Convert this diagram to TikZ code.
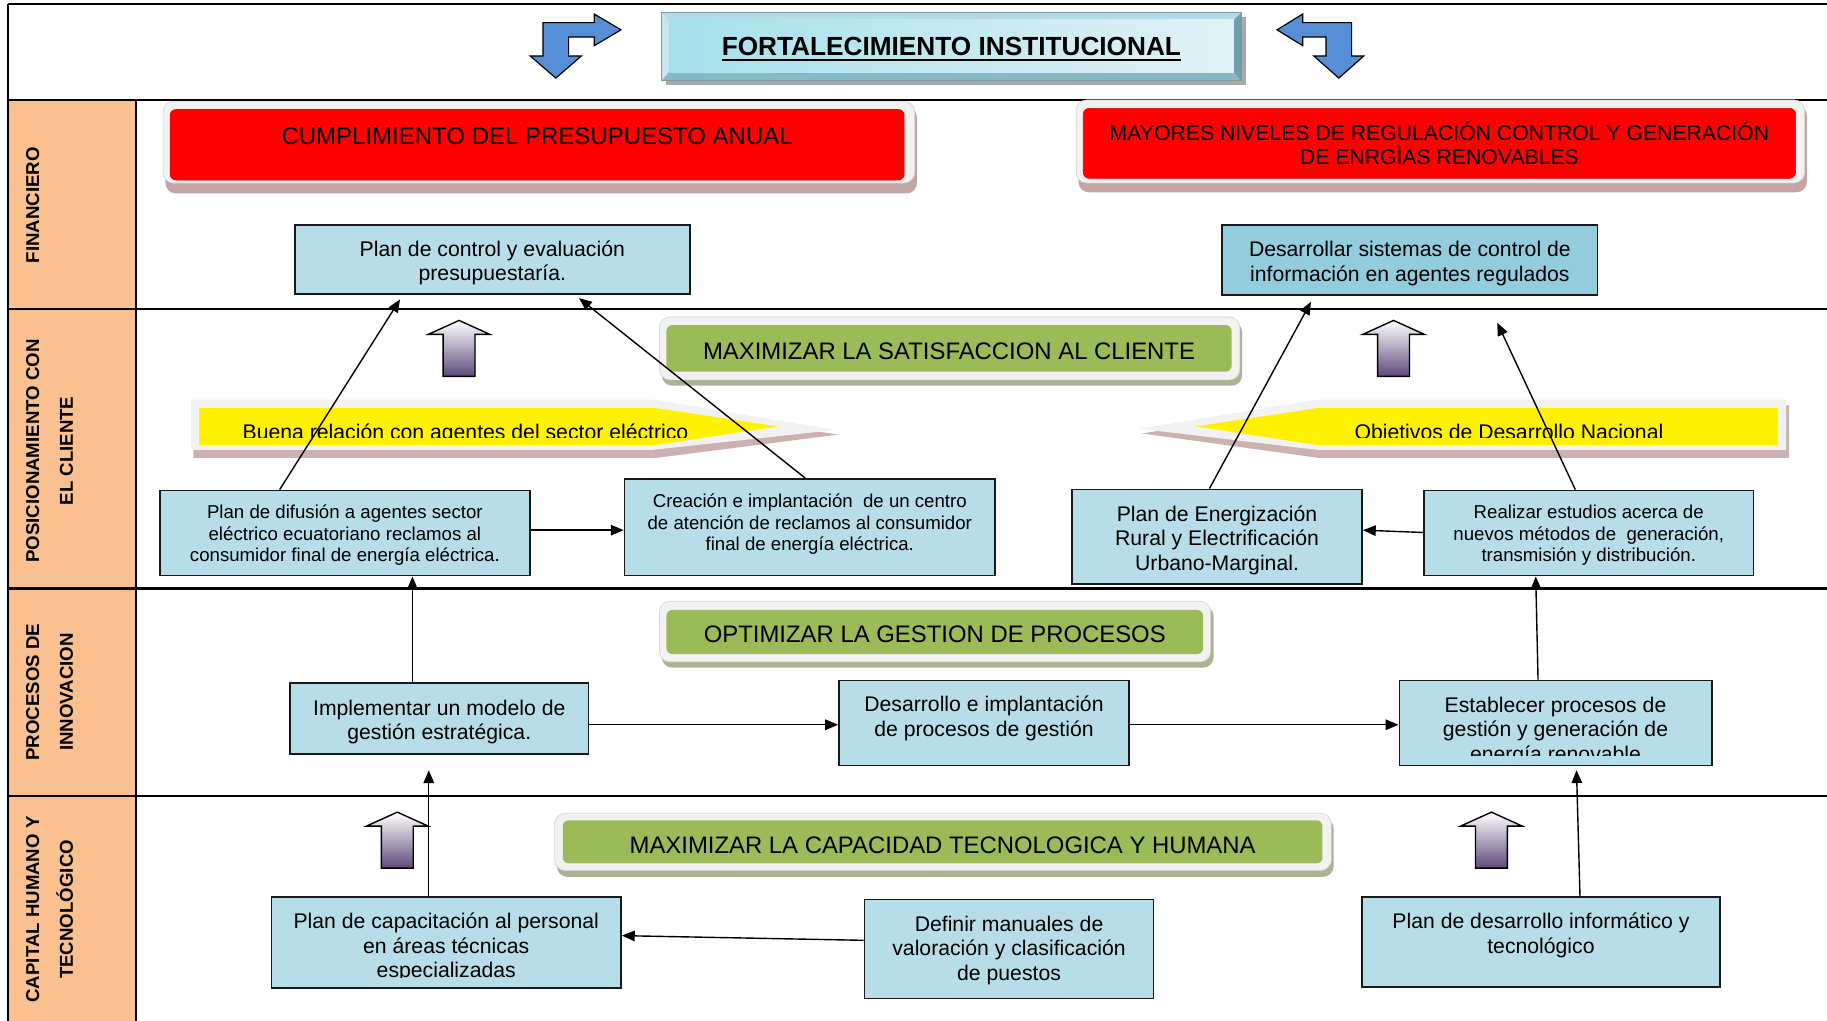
\documentclass[tikz,border=0pt]{standalone}
\usepackage{fontspec}
\setmainfont{Liberation Sans}
\usetikzlibrary{arrows.meta}

\definecolor{peach}{HTML}{FAC090}
\definecolor{boxblue}{HTML}{B7DDE8}
\definecolor{boxbluedark}{HTML}{93CDDD}
\definecolor{goalred}{HTML}{FF0000}
\definecolor{goalgreen}{HTML}{9BBB59}
\definecolor{framegray}{HTML}{F2F2F2}
\definecolor{frameedge}{HTML}{D6D6D6}
\definecolor{redshadow}{HTML}{C4A5A5}
\definecolor{greenshadow}{HTML}{ABB395}
\definecolor{yellowshadow}{HTML}{CDB0B0}
\definecolor{bentblue}{HTML}{558ED5}
\definecolor{uppurple}{HTML}{5F497A}
\definecolor{bevtop}{HTML}{B4DCE7}
\definecolor{bevleft}{HTML}{C6E5EE}
\definecolor{bevright}{HTML}{6E9FAD}
\definecolor{bevbot}{HTML}{86B9C6}
\definecolor{titleshadow}{HTML}{A9A9A9}

\newcommand{\setfs}[2]{\fontsize{#1}{#2}\selectfont}
% invisible strut that sets the height of a first line
\newcommand{\drop}[1]{\rule{0pt}{#1pt}}
\newsavebox{\ulsave}
\newcommand{\thickul}[1]{\sbox{\ulsave}{#1}\rlap{\rule[-4.5pt]{\wd\ulsave}{1.8pt}}\usebox{\ulsave}}
% hollow up arrow: centre x, tip y, bottom y
\newcommand{\hollowup}[3]{%
  \shadedraw[uparrow] (#1,#2) -- ++(26.5,12) -- ++(-12.8,0) -- (#1+13.7,#3)
    -- (#1-13.7,#3) -- (#1-13.7,#2+12) -- ++(-12.8,0) -- cycle;}

\tikzset{
  lane/.style={line width=2pt, draw=black},
  box/.style={draw=black!90, line width=1.5pt, fill=boxblue, align=center,
    inner sep=0pt, font=\setfs{18.2}{21}},
  smallbox/.style={box, font=\setfs{16}{18.5}},
  conn/.style={draw=black, line width=1.2pt, -{Triangle[length=11pt,width=9pt]}},
  goalframe/.style={fill=framegray, draw=frameedge, line width=0.6pt, rounded corners=9pt},
  redgoal/.style={fill=goalred, draw=red!85!black, line width=0.5pt, rounded corners=5pt,
    align=center, inner sep=0pt},
  greengoal/.style={fill=goalgreen, rounded corners=5pt, align=center, inner sep=0pt,
    font=\setfs{20.5}{24}},
  lanelabel/.style={rotate=90, align=center, font=\bfseries\setfs{16}{29}},
  bentarrow/.style={fill=bentblue, draw=black, line width=1pt, line join=miter},
  uparrow/.style={top color=white, bottom color=uppurple, draw=black, line width=1.2pt},
}

\begin{document}
\begin{tikzpicture}[x=1pt, y=-1pt]
\useasboundingbox (0,0) rectangle (1568,876);
\fill[white] (0,0) rectangle (1568,876);

% ---------- lanes ----------
\fill[peach] (7,86) rectangle (117,876);
\draw[lane] (7,3.5) -- (1568,3.5);
\draw[lane] (7,3.5) -- (7,876);
\draw[lane] (7,86) -- (1568,86);
\draw[lane] (7,265) -- (1568,265);
\draw[lane] (7,505) -- (1568,505);
\draw[lane] (7,683) -- (1568,683);
\draw[lane] (117,86) -- (117,876);

\node[lanelabel] (lfin) at (28,176) {FINANCIERO};
\node[lanelabel] (lcli) at (42.5,387) {POSICIONAMIENTO CON\\EL CLIENTE};
\node[lanelabel] (lpro) at (42.5,594) {PROCESOS DE\\INNOVACION};
\node[lanelabel] (lcap) at (42.5,780.5) {CAPITAL HUMANO Y\\TECNOLÓGICO};

% ---------- header ----------
\fill[titleshadow] (572,15) rectangle (1069,73);
\fill[bevtop] (568,11) -- (1065,11) -- (1059,17) -- (574,17) -- cycle;
\fill[bevleft] (568,11) -- (574,17) -- (574,62) -- (568,69) -- cycle;
\fill[bevright] (1065,11) -- (1065,69) -- (1059,62) -- (1059,17) -- cycle;
\fill[bevbot] (568,69) -- (574,62) -- (1059,62) -- (1065,69) -- cycle;
\shade[left color=boxblue!90!cyan, right color=boxblue!40!white] (574,17) rectangle (1059,62);
\draw[boxblue!70!black, line width=0.6pt] (568,11) rectangle (1065,69);
\node[font=\bfseries\setfs{22.5}{26}, inner sep=0pt] (title) at (816.5,42.2)
  {\thickul{FORTALECIMIENTO INSTITUCIONAL}};

\draw[bentarrow] (466,19.4) -- (510,19.4) -- (510,12) -- (533,25.6) -- (510,39.2)
  -- (510,31.8) -- (488,31.8) -- (488,48) -- (499,48) -- (477,67) -- (455,48)
  -- (466,48) -- cycle;
\draw[bentarrow] (1160,19.4) -- (1118,19.4) -- (1118,12) -- (1096,25.6) -- (1118,39.2)
  -- (1118,31.8) -- (1138,31.8) -- (1138,48) -- (1127.5,48) -- (1149,67) -- (1170.5,48)
  -- (1160,48) -- cycle;

% ---------- red goals ----------
\fill[redshadow, rounded corners=9pt] (142,92) rectangle (787,166);
\draw[goalframe] (140,87) rectangle (785,157);
\node[redgoal, minimum width=630pt, minimum height=60.5pt, font=\setfs{20.6}{24}]
  (cumpl) at (461,124.25) {CUMPLIMIENTO DEL PRESUPUESTO ANUAL\\[-9.5pt]\mbox{}};

\fill[redshadow, rounded corners=9pt] (925.6,90) rectangle (1550.7,165);
\draw[goalframe] (923.6,85.8) rectangle (1548.7,157);
\node[redgoal, minimum width=611.3pt, minimum height=60pt, font=\setfs{18.2}{21}]
  (mayores) at (1235.35,123)
  {MAYORES NIVELES DE REGULACIÓN CONTROL Y GENERACIÓN\\DE ENRGÌAS RENOVABLES};

% ---------- green goals ----------
\fill[greenshadow, rounded corners=9pt] (568,276) rectangle (1066,331);
\draw[goalframe] (566,272) rectangle (1064,326);
\node[greengoal, minimum width=485pt, minimum height=40pt] (satisf) at (814.5,299)
  {\drop{19}MAXIMIZAR LA SATISFACCION AL CLIENTE};

\fill[greenshadow, rounded corners=9pt] (568,520) rectangle (1041.5,573);
\draw[goalframe] (566,516) rectangle (1039,568);
\node[greengoal, minimum width=460.5pt, minimum height=37.8pt] (optim) at (802.25,542.4)
  {\drop{19}OPTIMIZAR LA GESTION DE PROCESOS};

\fill[greenshadow, rounded corners=9pt] (478,702) rectangle (1144.5,752.5);
\draw[goalframe] (476,698) rectangle (1142.5,747);
\node[greengoal, minimum width=652pt, minimum height=37pt] (capac) at (809,722.5)
  {\drop{20}MAXIMIZAR LA CAPACIDAD TECNOLOGICA Y HUMANA};

% ---------- yellow banners ----------
\fill[yellowshadow] (166,348) -- (563,348) -- (719,373) -- (563,393) -- (166,393) -- cycle;
\fill[framegray] (164,343) -- (561,343) -- (717,369) -- (561,386) -- (164,386) -- cycle;
\fill[yellow] (171,350) -- (561,350) -- (668,366) -- (561,382) -- (171,382) -- cycle;
\node[anchor=base, inner sep=0pt, font=\setfs{18.2}{21}] (buena) at (399.5,377)
  {Buena relación con agentes del sector eléctrico};
\begin{scope}
  \clip (171,350) -- (561,350) -- (668,366) -- (561,382) -- (171,382) -- cycle;
  \fill[yellow] (160,376) rectangle (700,392);
\end{scope}

\fill[yellowshadow] (980,372) -- (1132,348) -- (1535.5,348) -- (1535.5,393) -- (1132,393) -- cycle;
\fill[framegray] (978,368) -- (1130,343) -- (1533,343) -- (1533,386) -- (1130,386) -- cycle;
\fill[yellow] (1026,366) -- (1132,350) -- (1526,350) -- (1526,382) -- (1132,382) -- cycle;
\node[anchor=base, inner sep=0pt, font=\setfs{18.2}{21}] (objetivos) at (1295,377)
  {Objetivos de Desarrollo Nacional};
\begin{scope}
  \clip (1026,366) -- (1132,350) -- (1526,350) -- (1526,382) -- (1132,382) -- cycle;
  \fill[yellow] (1100,376) rectangle (1530,392);
\end{scope}

% ---------- hollow up arrows ----------
\hollowup{394}{275}{323}
\hollowup{1196}{275}{323}
\hollowup{341}{697}{745}
\hollowup{1280}{697}{745}

% ---------- boxes ----------
\node[box, minimum width=339pt, minimum height=59pt] (control) at (422.5,222.5)
  {\drop{19.2}Plan de control y evaluación\\presupuestaría.};
\node[box, fill=boxbluedark, minimum width=322pt, minimum height=60pt] (desarrollar) at (1210,223)
  {\drop{19.2}Desarrollar sistemas de control de\\información en agentes regulados};

\node[smallbox, minimum width=318pt, minimum height=73pt] (difusion) at (296,457.5)
  {\drop{15.5}Plan de difusión a agentes sector\\eléctrico ecuatoriano reclamos al\\consumidor final de energía eléctrica.};
\node[smallbox, minimum width=318pt, minimum height=83pt] (creacion) at (695,452.5)
  {Creación e implantación\ \ de un centro\\de atención de reclamos al consumidor\\final de energía eléctrica.\\[-10pt]\mbox{}};
\node[box, minimum width=249pt, minimum height=81pt] (energizacion) at (1044.5,460.5)
  {\drop{19.2}Plan de Energización\\Rural y Electrificación\\Urbano-Marginal.};
\node[smallbox, minimum width=283pt, minimum height=73pt] (realizar) at (1363.5,457.5)
  {\drop{15.5}Realizar estudios acerca de\\nuevos métodos de\ \ generación,\\transmisión y distribución.};

\node[box, minimum width=256pt, minimum height=61pt] (implementar) at (377,616.5)
  {\drop{19.2}Implementar un modelo de\\gestión estratégica.};
\node[box, minimum width=249pt, minimum height=73pt] (desproc) at (844.5,620.5)
  {Desarrollo e implantación\\de procesos de gestión\\[-9pt]\mbox{}};
\node[box, minimum width=268pt, minimum height=73pt] (establecer) at (1335,620.5)
  {\mbox{}\\[6pt]Establecer procesos de\\gestión y generación de\\energía renovable};
\fill[boxblue] (1202,648.5) rectangle (1468,656.2);

\node[box, minimum width=300pt, minimum height=78pt] (capacitacion) at (383,809)
  {\mbox{}\\[1pt]Plan de capacitación al personal\\en áreas técnicas\\especializadas};
\fill[boxblue] (234.5,839.5) rectangle (531.5,847.2);
\node[box, minimum width=248pt, minimum height=85pt] (definir) at (866,814.5)
  {\drop{15.5}Definir manuales de\\valoración y clasificación\\de puestos};
\node[box, minimum width=307pt, minimum height=77pt] (informatico) at (1322.5,808.5)
  {Plan de desarrollo informático y\\tecnológico\\[-6pt]\mbox{}};

% ---------- connectors ----------
\coordinate (odntip) at (1285,277);
\coordinate (captip) at (368,661);
\coordinate (inftip) at (1353,661);

\draw[conn, shorten >=5pt] ([xshift=-56pt]difusion.north) -- ([xshift=-76.5pt]control.south);
\draw[conn, shorten >=5pt] ([xshift=-4pt]creacion.north) -- ([xshift=70.5pt]control.south);
\coordinate (c1) at ([yshift=2.5pt]difusion.east);
\draw[conn] (c1) -- (c1 -| creacion.west);
\draw[conn, shorten >=6pt] ([xshift=-6.5pt]energizacion.north) -- ([xshift=-82pt]desarrollar.south);
\draw[conn] ([xshift=-11.5pt]realizar.north) -- (odntip);
\draw[conn] ([yshift=0.5pt]realizar.west) -- ([yshift=5.5pt]energizacion.east);

\coordinate (c2) at ([xshift=-23pt]implementar.north);
\draw[conn] (c2) -- (c2 |- difusion.south);
\coordinate (c3) at ([yshift=-5.5pt]implementar.east);
\draw[conn] (c3) -- (c3 -| desproc.west);
\coordinate (c4) at ([yshift=-1.5pt]desproc.east);
\draw[conn] (c4) -- (c4 -| establecer.west);
\draw[conn] ([xshift=-15pt]establecer.north) -- ([xshift=-45.5pt]realizar.south);

\draw[conn] ([xshift=-15pt]capacitacion.north) -- (captip);
\draw[conn] ([xshift=33.5pt]informatico.north) -- (inftip);
\draw[conn] ([yshift=7.5pt]definir.west) -- ([yshift=6pt]capacitacion.east);
\end{tikzpicture}
\end{document}
